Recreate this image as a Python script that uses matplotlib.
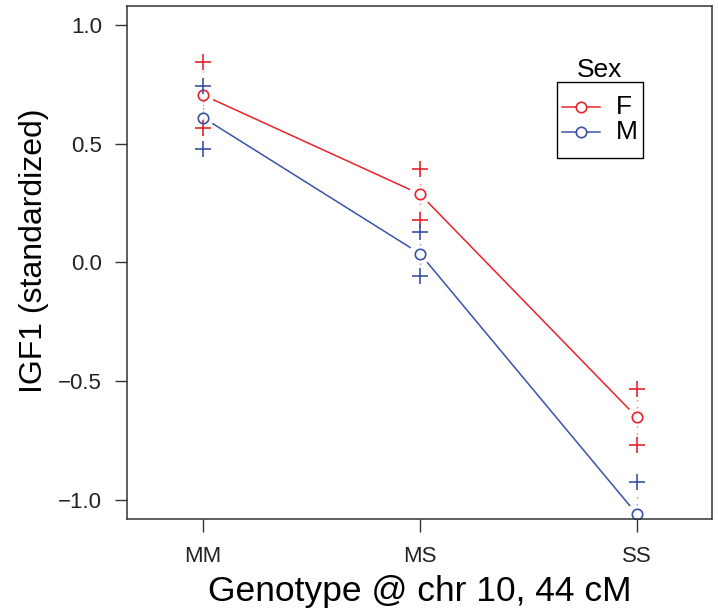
import numpy as np
import matplotlib
matplotlib.use("Agg")
import matplotlib.pyplot as plt
from matplotlib.patches import Rectangle
from matplotlib.lines import Line2D

plt.rcParams['font.family'] = ['Liberation Sans', 'DejaVu Sans']

genotypes = ["MM", "MS", "SS"]
sexes = ["F", "M"]
means = {"F": [0.705, 0.287, -0.654], "M": [0.610, 0.036, -1.063]}
ses = {"F": [0.140, 0.107, 0.118], "M": [0.131, 0.093, 0.135]}
colors = {"F": "#E8232B", "M": "#3A52A6"}

fig = plt.figure(figsize=(7.18, 6.14), dpi=100)
ax = fig.add_axes([127/718, 1 - 518.5/614, (712-127)/718, (518.5-6)/614])
ax.set_xlim(0.65, 3.345)
ax.set_ylim(-1.08, 1.08)

x = np.arange(1, len(genotypes) + 1)


def gap_seg(p0, p1, g0, g1):
    # shorten a segment by g0/g1 pixels at each end (like R type="b")
    t = ax.transData
    a = t.transform(p0)
    b = t.transform(p1)
    d = b - a
    L = np.hypot(*d)
    u = d / L
    a2 = a + u * g0
    b2 = b - u * g1
    inv = t.inverted()
    return inv.transform(a2), inv.transform(b2)


for s in sexes:
    m = np.array(means[s])
    e = np.array(ses[s])
    c = colors[s]
    for i in range(len(x) - 1):
        a, b = gap_seg((x[i], m[i]), (x[i+1], m[i+1]), 11, 11)
        ax.plot([a[0], b[0]], [a[1], b[1]], color=c, lw=1.1, solid_capstyle='butt')
    for i in range(len(x)):
        for sign in (1, -1):
            a, b = gap_seg((x[i], m[i]), (x[i], m[i] + sign * e[i]), 9, 9)
            ax.plot([a[0], b[0]], [a[1], b[1]], color=c, lw=1.0, alpha=0.6,
                    linestyle=(0, (1, 4)))
    ax.plot(x, m, linestyle='none', marker='o', markersize=7.5, mfc='none',
            mec=c, mew=1.2)
    ax.plot(x, m + e, linestyle='none', marker='+', markersize=11, mec=c, mew=1.2)
    ax.plot(x, m - e, linestyle='none', marker='+', markersize=11, mec=c, mew=1.2)

ax.set_xticks(x)
ax.set_xticklabels(genotypes)
ax.set_yticks([-1.0, -0.5, 0.0, 0.5, 1.0])
ax.set_yticklabels(["\u22121.0", "\u22120.5", "0.0", "0.5", "1.0"])
ax.tick_params(axis='both', labelsize=16, length=9, width=1.0, color='#333333',
               labelcolor='#222222')
ax.tick_params(axis='y', pad=9)
ax.tick_params(axis='x', pad=11)
for sp in ax.spines.values():
    sp.set_color('#333333')
    sp.set_linewidth(1.1)

fig.text(34/718, 1 - 251/614, "IGF1 (standardized)", rotation=90, fontsize=23,
         ha='center', va='center')
fig.text(420/718, 1 - 592/614, "Genotype @ chr 10, 44 cM", fontsize=25.5,
         ha='center', va='center')

# legend box (figure pixel coordinates)
def fx(px):
    return px / 718


def fy(py):
    return 1 - py / 614


fig.patches.append(Rectangle((fx(557), fy(158)), fx(643) - fx(557), fy(82) - fy(158),
                             transform=fig.transFigure, fill=False, ec='black', lw=1.0))
fig.text(fx(600), fy(70), "Sex", fontsize=19, ha='center', va='center')
for s, py in zip(sexes, [107, 132]):
    fig.lines.append(Line2D([fx(562), fx(600)], [fy(py), fy(py)], color=colors[s],
                            lw=1.1, transform=fig.transFigure))
    fig.lines.append(Line2D([fx(581)], [fy(py)], marker='o', markersize=7.5, mfc='white',
                            mec=colors[s], mew=1.2, transform=fig.transFigure))
    fig.text(fx(616), fy(py), s, fontsize=19, ha='left', va='center')

fig.savefig("out.png", dpi=100)
